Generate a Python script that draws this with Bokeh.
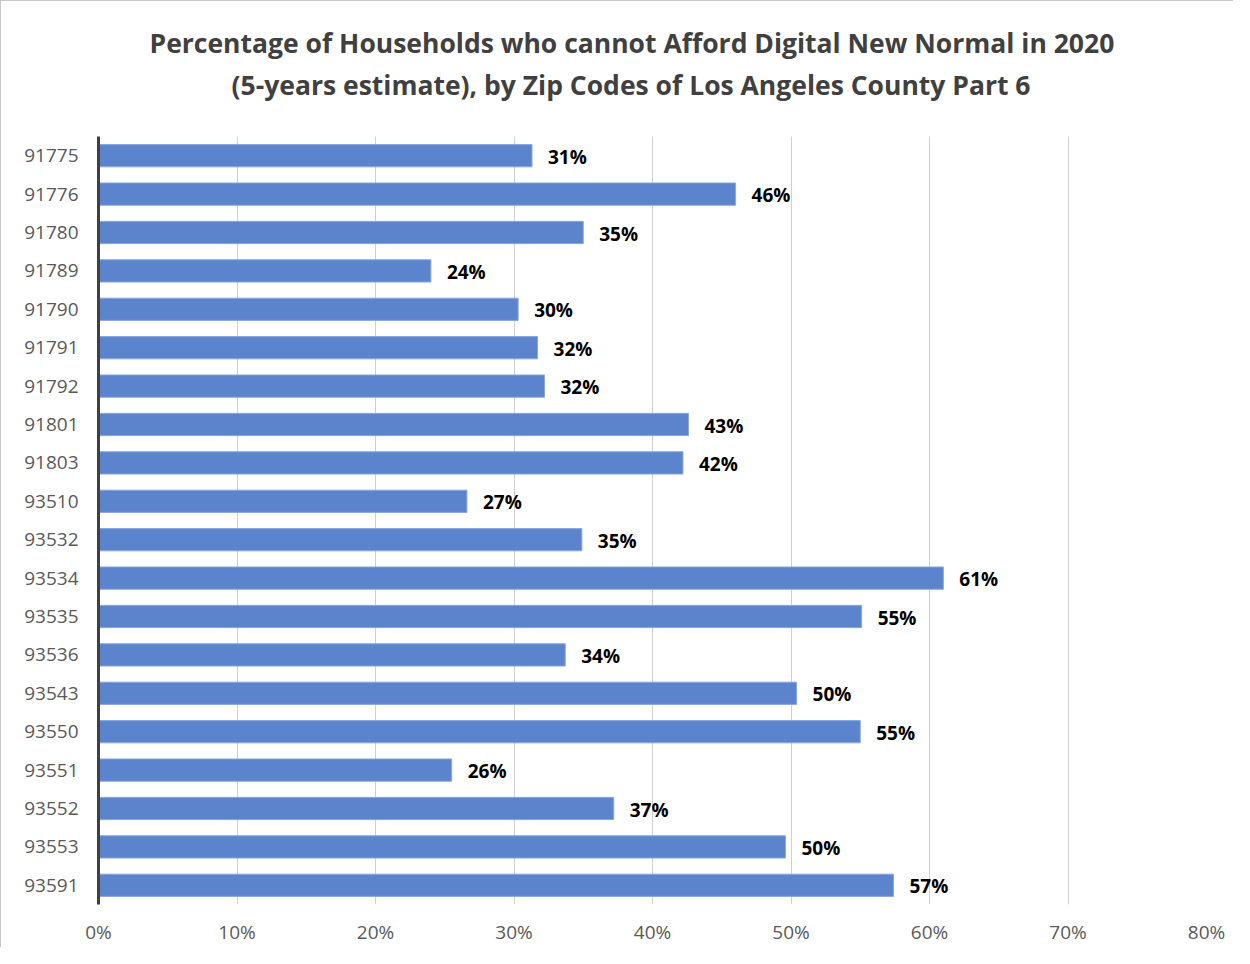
from bokeh.plotting import figure
from bokeh.models import ColumnDataSource, FactorRange, Range1d, FixedTicker, NumeralTickFormatter, LabelSet, Title
from bokeh.core.properties import value
from bokeh.embed import file_html
from bokeh.resources import INLINE

zips = ["91775", "91776", "91780", "91789", "91790", "91791", "91792", "91801", "91803", "93510",
        "93532", "93534", "93535", "93536", "93543", "93550", "93551", "93552", "93553", "93591"]
values = [0.313, 0.460, 0.350, 0.240, 0.303, 0.317, 0.322, 0.426, 0.422, 0.266,
          0.349, 0.610, 0.551, 0.337, 0.504, 0.550, 0.255, 0.372, 0.496, 0.574]
labels = [f"{round(v * 100)}%" for v in values]
x_ticks = [0, 0.1, 0.2, 0.3, 0.4, 0.5, 0.6, 0.7, 0.8]
title_lines = ["Percentage of Households who cannot Afford Digital New Normal in 2020",
               "(5-years estimate), by Zip Codes of Los Angeles County Part 6"]

src = ColumnDataSource(dict(zip=zips, val=values, lab=labels))

p = figure(
    width=1233, height=947,
    y_range=FactorRange(factors=list(reversed(zips)), range_padding=0),
    x_range=Range1d(0, 0.8),
    output_backend="svg", toolbar_location=None,
    min_border_left=97, min_border_right=28, min_border_top=135, min_border_bottom=44,
)
p.styles = {"border-left": "1px solid #c8c8c8", "border-top": "1px solid #c8c8c8"}
p.outline_line_color = None
p.title.visible = False

spacer = Title(text=" ", text_font_size="10px", standoff=21)
t2 = Title(text=title_lines[1], align="left", text_font="Open Sans", text_font_size="26.5px",
           text_font_style="bold", text_color="#404040", standoff=0, offset=133)
t1 = Title(text=title_lines[0], align="left", text_font="Open Sans", text_font_size="26.5px",
           text_font_style="bold", text_color="#404040", standoff=8, offset=51)
p.add_layout(spacer, "above")
p.add_layout(t2, "above")
p.add_layout(t1, "above")

p.hbar(y="zip", right="val", left=0, height=0.58, source=src,
       fill_color="#5b84cc", line_color="#8aa8dc", line_width=1)

p.add_layout(LabelSet(x="val", y="zip", text="lab", source=src, x_offset=16, y_offset=-1,
                      text_font=value("Open Sans"), text_font_size="19px", text_font_style="bold",
                      text_color="#000000", text_baseline="middle"))

p.xaxis.ticker = FixedTicker(ticks=x_ticks)
p.xaxis.formatter = NumeralTickFormatter(format="0%")
p.xaxis.axis_line_color = None
p.xaxis.major_tick_line_color = None
p.xaxis.minor_tick_line_color = None
p.xaxis.major_tick_out = 0
p.xaxis.major_tick_in = 0
p.xaxis.minor_tick_out = 0
p.xaxis.major_label_text_font = "Open Sans"
p.xaxis.major_label_text_font_size = "19px"
p.xaxis.major_label_text_color = "#595959"
p.xaxis.major_label_standoff = 14

p.yaxis.axis_line_color = "#404040"
p.yaxis.axis_line_width = 3
p.yaxis.major_tick_line_color = None
p.yaxis.minor_tick_line_color = None
p.yaxis.major_tick_out = 0
p.yaxis.major_tick_in = 0
p.yaxis.minor_tick_out = 0
p.yaxis.major_label_text_font = "Open Sans"
p.yaxis.major_label_text_font_size = "19px"
p.yaxis.major_label_text_color = "#595959"
p.yaxis.major_label_standoff = 20

p.xgrid.grid_line_color = "#d0d0d0"
p.xgrid.grid_line_width = 1
p.ygrid.grid_line_color = None

open("out.html", "w").write(file_html(p, INLINE))
